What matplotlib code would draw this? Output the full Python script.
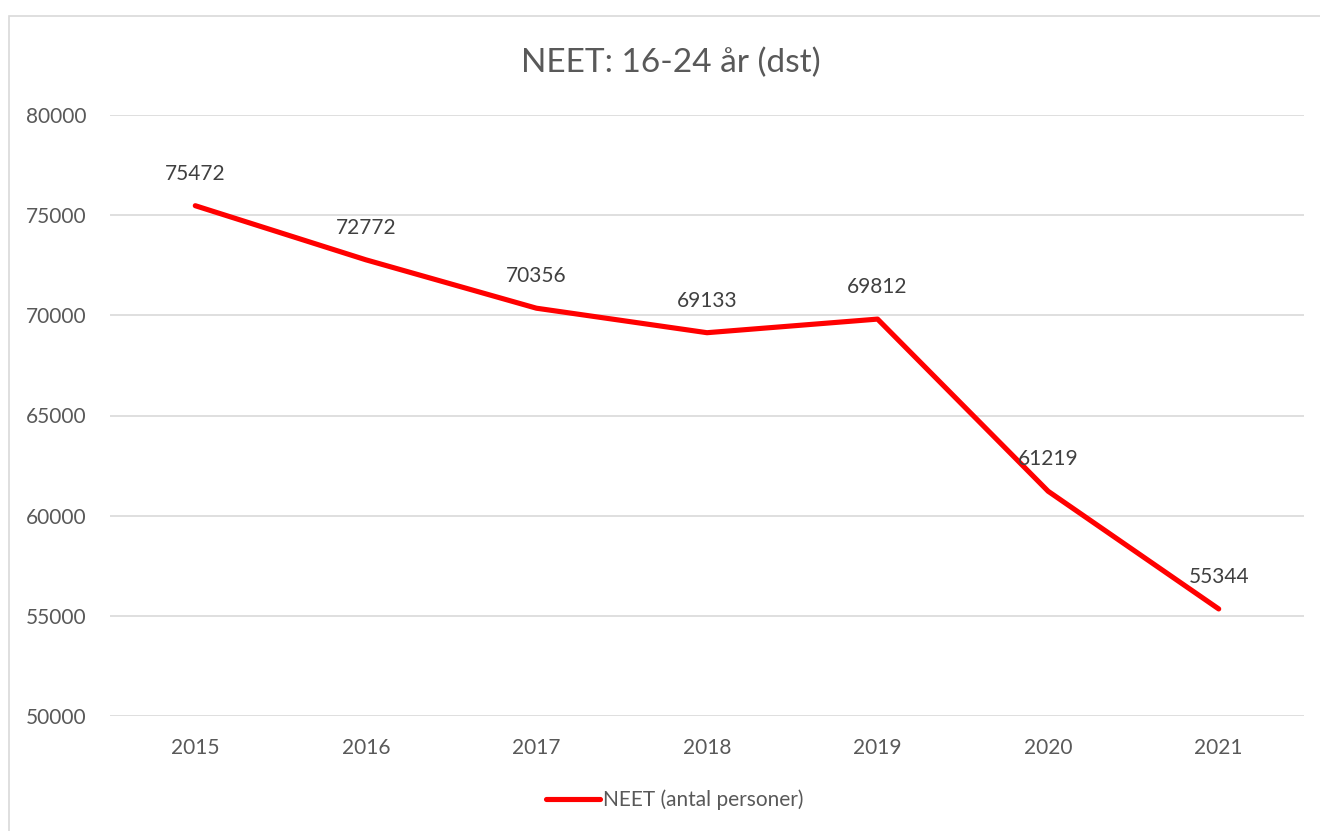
import matplotlib.pyplot as plt
from matplotlib.patches import Rectangle

# data
years = ["2015", "2016", "2017", "2018", "2019", "2020", "2021"]
neet = [75472, 72772, 70356, 69133, 69812, 61219, 55344]

TEXT = "#595959"
GRID = "#D9D9D9"
plt.rcParams["font.family"] = ["Lato", "DejaVu Sans"]

fig = plt.figure(figsize=(13.2, 8.31), dpi=100)
ax = fig.add_axes([110 / 1320, 1 - 716 / 831, (1304 - 110) / 1320, (716 - 115) / 831])

# chart border (cropped on right/bottom in reference)
fig.patches.append(Rectangle((9 / 1320, -0.05), 1.1, 1 - 16 / 831 + 0.05,
                             transform=fig.transFigure, fill=False,
                             edgecolor=GRID, linewidth=1.2))

x = list(range(len(years)))
ax.plot(x, neet, color="#FF0000", linewidth=3.7, solid_capstyle="round",
        solid_joinstyle="round", label="NEET (antal personer)")

for xi, v in zip(x, neet):
    ax.annotate(str(v), (xi, v), xytext=(0, 23), textcoords="offset points",
                ha="center", va="center", fontsize=15, color="#404040")

ax.set_xlim(-0.5, len(years) - 0.5)
ax.set_ylim(50000, 80000)
ax.set_yticks(range(50000, 80001, 5000))
ax.set_xticks(x)
ax.set_xticklabels(years)
ax.tick_params(length=0, labelsize=15, labelcolor=TEXT)
ax.tick_params(axis="x", pad=16)
ax.tick_params(axis="y", pad=17)
ax.grid(axis="y", color=GRID, linewidth=1.2)
ax.set_axisbelow(True)
for s in ax.spines.values():
    s.set_visible(False)

fig.text(0.508, 1 - 63 / 831, "NEET: 16-24 år (dst)", ha="center", va="center",
         fontsize=24, color=TEXT)

fig.legend(loc="center", bbox_to_anchor=(0.511, 1 - 800 / 831), frameon=False,
           fontsize=15, labelcolor=TEXT, handlelength=2.6, handletextpad=0.15)

fig.savefig("out.png", dpi=100)
